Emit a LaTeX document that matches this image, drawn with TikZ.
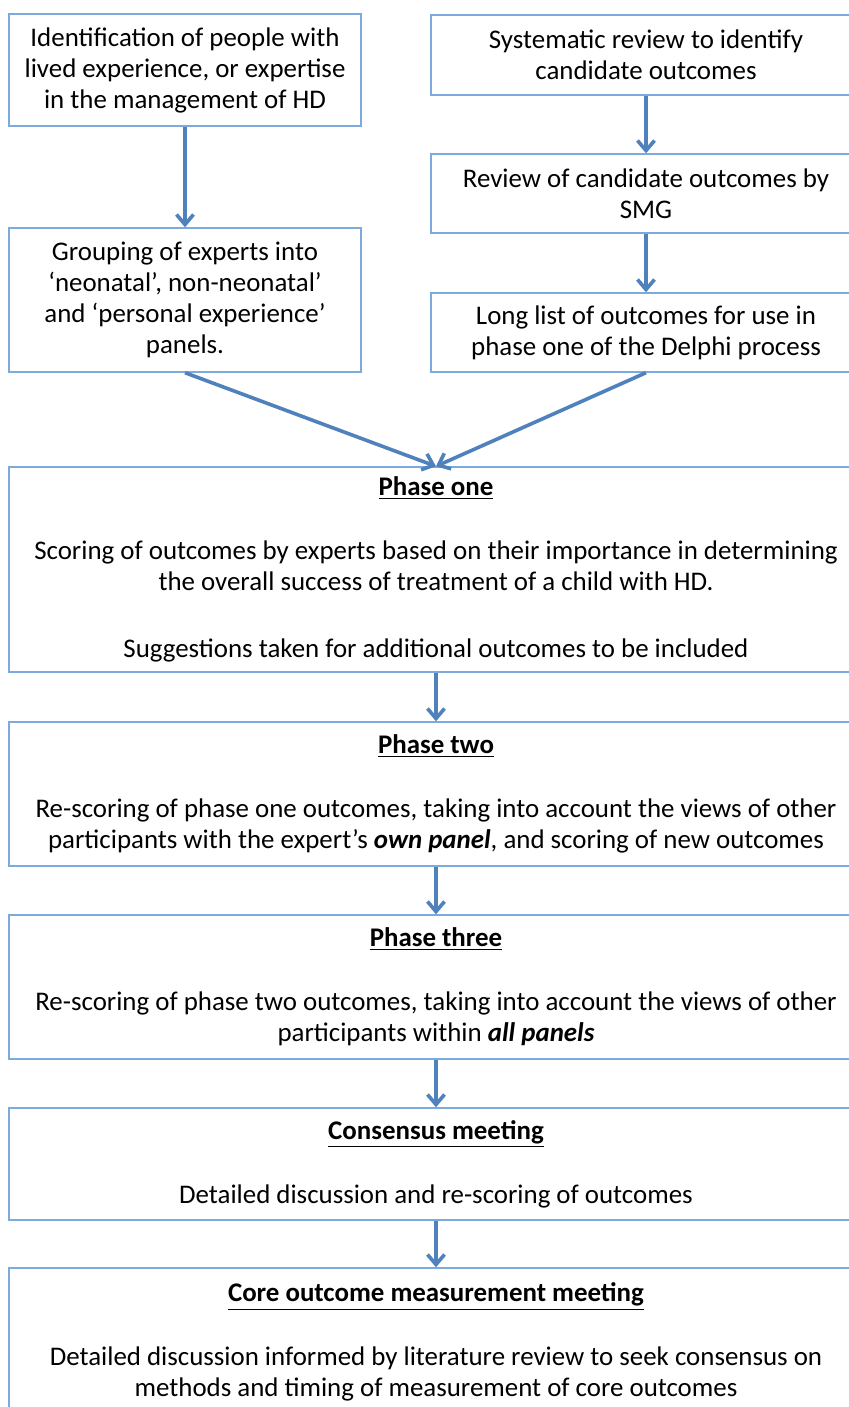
\documentclass[tikz,border=0pt]{standalone}
\usepackage{fontspec}
\setmainfont{Carlito}
\usetikzlibrary{arrows.meta}
\definecolor{boxblue}{RGB}{125,170,220}
\definecolor{arrowblue}{RGB}{79,129,189}
\def\stagenode{\node[stage]}

\begin{document}
\begin{tikzpicture}[x=0.5pt,y=-0.5pt,
  stage/.style={draw=boxblue,line width=0.7pt,align=center,inner sep=0pt,
    font=\fontsize{13.45pt}{15.5pt}\selectfont},
  flow/.style={draw=arrowblue,line width=1.8pt,-{Straight Barb[length=5pt,width=8.5pt]}}]
\useasboundingbox (0,0) rectangle (849,1407);
\clip (0,0) rectangle (849,1407);
% left column
\stagenode[minimum width=176pt,minimum height=56pt] (ident) at (185,70)
  {Identification of people with\\lived experience, or expertise\\in the management of HD};
\stagenode[minimum width=176pt,minimum height=72pt] (group) at (185,300)
  {Grouping of experts into\\‘neonatal’, non-neonatal’\\and ‘personal experience’\\panels.};
% right column
\stagenode[minimum width=215pt,minimum height=40pt] (sysrev) at (646,55)
  {Systematic review to identify\\candidate outcomes};
\stagenode[minimum width=215pt,minimum height=39.5pt] (review) at (646,193.5)
  {Review of candidate outcomes by\\SMG};
\stagenode[minimum width=215pt,minimum height=39.5pt] (longlist) at (646,332.5)
  {Long list of outcomes for use in\\phase one of the Delphi process};
% Delphi rounds
\stagenode[minimum width=427pt,minimum height=102.5pt] (phone) at (436,569.5)
  {\underline{\textbf{Phase one}}\\[16.5pt]
   Scoring of outcomes by experts based on their importance in determining\\
   the overall success of treatment of a child with HD.\\[18pt]
   Suggestions taken for additional outcomes to be included};
\stagenode[minimum width=427pt,minimum height=72pt] (phtwo) at (436,794)
  {\underline{\textbf{Phase two}}\\[16.5pt]
   Re-scoring of phase one outcomes, taking into account the views of other\\
   participants with the expert’s \textbf{\textit{own panel}}, and scoring of new outcomes};
\stagenode[minimum width=427pt,minimum height=72pt] (phthree) at (436,987)
  {\underline{\textbf{Phase three}}\\[16.5pt]
   Re-scoring of phase two outcomes, taking into account the views of other\\
   participants within \textbf{\textit{all panels}}};
\stagenode[minimum width=427pt,minimum height=56pt] (consensus) at (436,1164)
  {\underline{\textbf{Consensus meeting}}\\[16.5pt]
   Detailed discussion and re-scoring of outcomes};
\stagenode[minimum width=427pt,minimum height=74pt] (core) at (436,1342)
  {\underline{\textbf{Core outcome measurement meeting}}\\[16.5pt]
   Detailed discussion informed by literature review to seek consensus on\\
   methods and timing of measurement of core outcomes};
% arrows
\draw[flow] (ident.south) -- (group.north);
\draw[flow] (sysrev.south) -- (review.north);
\draw[flow] (review.south) -- (longlist.north);
\draw[flow] (group.south) -- (phone.north);
\draw[flow] (longlist.south) -- (phone.north);
\draw[flow] (phone.south) -- (phtwo.north);
\draw[flow] (phtwo.south) -- (phthree.north);
\draw[flow] (phthree.south) -- (consensus.north);
\draw[flow] (consensus.south) -- (core.north);
\end{tikzpicture}
\end{document}
